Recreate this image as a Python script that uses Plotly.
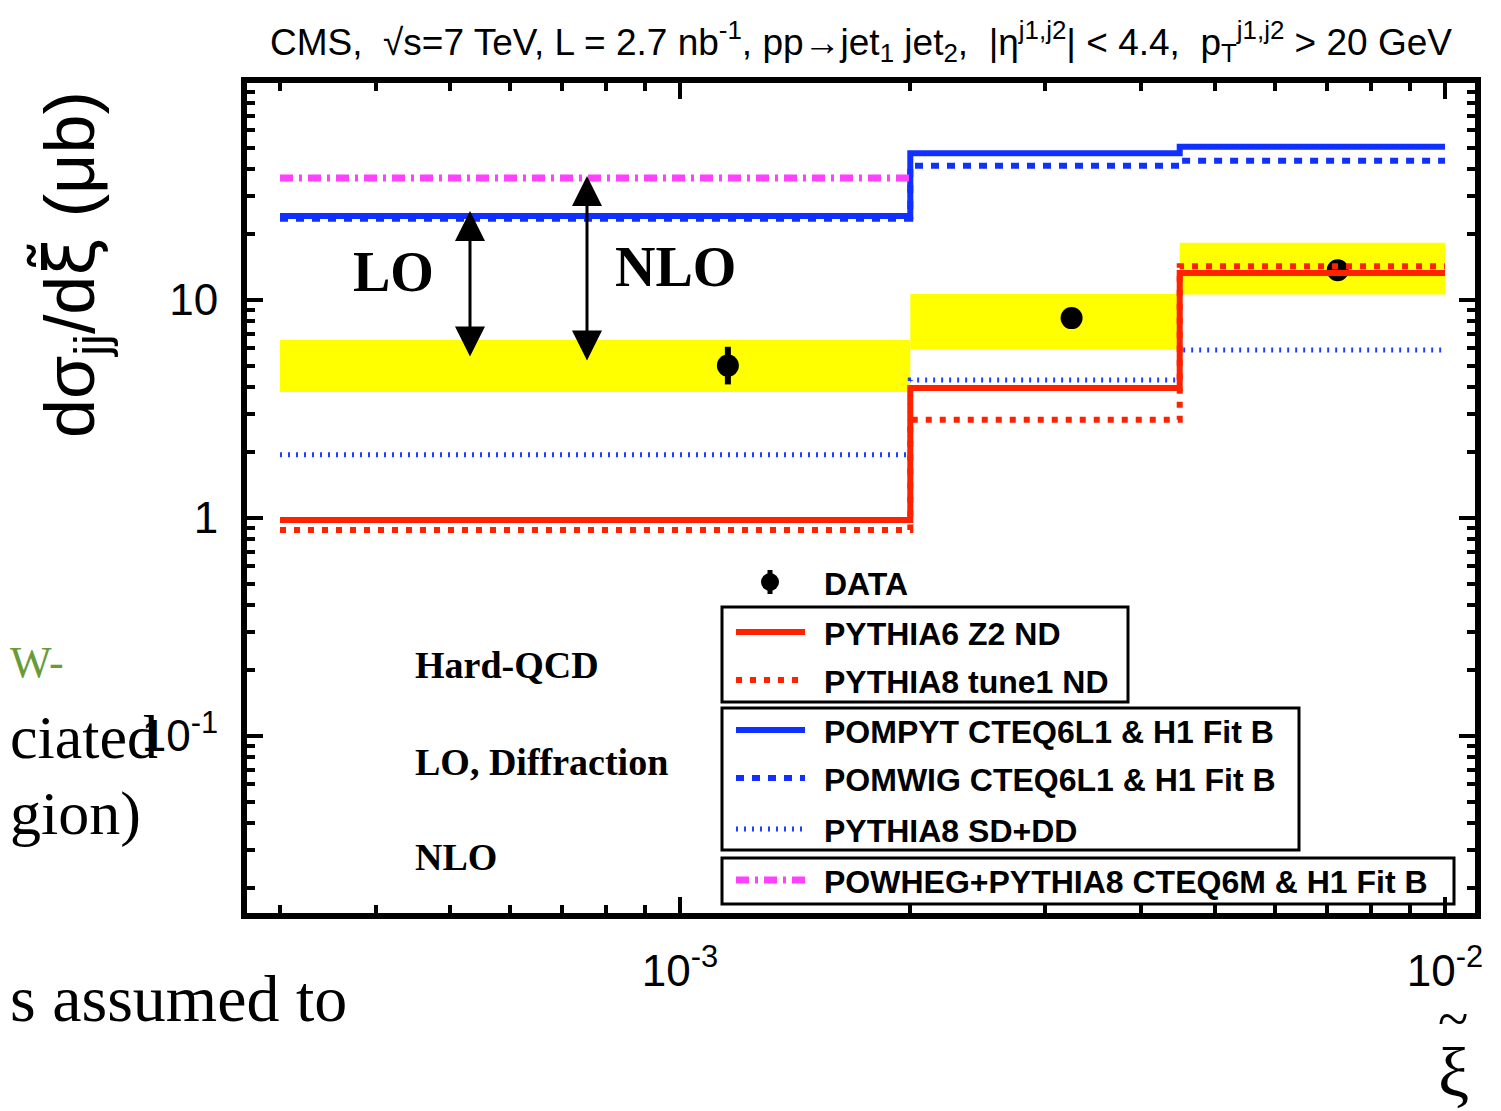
import plotly.graph_objects as go

# ---------------- data ----------------
bin_edges = [3e-4, 2e-3, 4.5e-3, 1e-2]
data_x = [1.155e-3, 3.25e-3, 7.24e-3]
data_y = [5.0, 8.26, 13.7]
data_err_up = [1.1, 0.6, 0.8]
data_err_dn = [0.9, 0.6, 0.8]
band_lo = [3.78, 5.96, 10.6]
band_hi = [6.56, 10.65, 18.3]

pythia6_z2 = [0.98, 3.95, 13.3]
pythia8_tune1 = [0.88, 2.82, 14.3]
pompyt = [24.3, 47.1, 50.4]
pomwig = [23.6, 41.3, 43.5]
pythia8_sddd = [1.95, 4.3, 5.9]
powheg = [36.3]

y_tickvals = [0.1, 1, 10]
y_ticktext = ["10<sup>-1</sup>", "1", "10"]
x_tickvals = [1e-3, 1e-2]
x_ticktext = ["10<sup>-3</sup>", "10<sup>-2</sup>"]

legend_labels = ["DATA", "PYTHIA6 Z2 ND", "PYTHIA8 tune1 ND",
                 "POMPYT CTEQ6L1 & H1 Fit B", "POMWIG CTEQ6L1 & H1 Fit B",
                 "PYTHIA8 SD+DD", "POWHEG+PYTHIA8 CTEQ6M & H1 Fit B"]

# ---------------- geometry (page pixels) ----------------
OFF = 8                      # default body margin of the html page
W, H = 1501 - OFF, 1111 - OFF
PX0, PX1, PY0, PY1 = 247, 1475, 83, 913


def px(X):
    return (X - PX0) / (PX1 - PX0)


def py(Y):
    return (PY1 - Y) / (PY1 - PY0)


SANS = "Liberation Sans, Arial, sans-serif"
SERIF = "Liberation Serif, Times New Roman, serif"

RED = "#ff2200"
BLUE = "#1030ff"
BLUE_DOT = "#2040ff"
MAGENTA = "#ff40ff"
YELLOW = "#ffff00"

fig = go.Figure()

# yellow bands
for i in range(3):
    e0, e1 = bin_edges[i], bin_edges[i + 1]
    fig.add_trace(go.Scatter(
        x=[e0, e1, e1, e0, e0],
        y=[band_lo[i], band_lo[i], band_hi[i], band_hi[i], band_lo[i]],
        mode="lines", fill="toself", fillcolor=YELLOW,
        line=dict(width=0, color=YELLOW), showlegend=False, hoverinfo="skip"))

# data
fig.add_trace(go.Scatter(
    x=data_x, y=data_y, mode="markers",
    marker=dict(color="black", size=22),
    error_y=dict(type="data", array=data_err_up, arrayminus=data_err_dn,
                 color="black", thickness=6, width=0),
    showlegend=False))


def step(vals, color, width, dash):
    n = len(vals)
    xs = bin_edges[:n + 1]
    ys = list(vals) + [vals[-1]]
    fig.add_trace(go.Scatter(x=xs, y=ys, mode="lines", line_shape="hv",
                             line=dict(color=color, width=width, dash=dash),
                             showlegend=False))


DOT = "2px,6px"
RDASH = "6px,8px"
BDASH = "8px,8px"
DASHDOT = "13px,6px,3px,6px"

step(pythia8_sddd, BLUE_DOT, 5, DOT)
step(pythia8_tune1, RED, 6, RDASH)
step(pythia6_z2, RED, 6, "solid")
step(pomwig, BLUE, 6, BDASH)
step(pompyt, BLUE, 6, "solid")
step(powheg, MAGENTA, 7, DASHDOT)

x_minor = [k * 1e-4 for k in range(3, 10)] + [k * 1e-3 for k in range(2, 10)]
y_minor = ([k * 0.01 for k in range(2, 10)] + [k * 0.1 for k in range(2, 10)] +
           [k * 1.0 for k in range(2, 10)] + [k * 10.0 for k in range(2, 10)])

fig.update_xaxes(
    type="log",
    range=[-3 - (680 - PX0) / 765, -2 + (PX1 - 1445) / 765],
    showline=True, linecolor="black", linewidth=6, mirror="allticks",
    ticks="inside", ticklen=16, tickwidth=4, tickcolor="black",
    tickvals=x_tickvals, ticktext=x_ticktext,
    tickfont=dict(family=SANS, size=44, color="black"),
    ticklabelstandoff=14,
    minor=dict(tickvals=x_minor, ticks="inside", ticklen=8, tickwidth=4, tickcolor="black"),
    showgrid=False, zeroline=False)

fig.update_yaxes(
    type="log",
    range=[-1 - (PY1 - 736) / 218, 1 + (300 - PY0) / 218],
    showline=True, linecolor="black", linewidth=6, mirror="allticks",
    ticks="inside", ticklen=16, tickwidth=4, tickcolor="black",
    tickvals=y_tickvals, ticktext=y_ticktext,
    tickfont=dict(family=SANS, size=44, color="black"),
    ticklabelstandoff=14,
    minor=dict(tickvals=y_minor, ticks="inside", ticklen=8, tickwidth=4, tickcolor="black"),
    showgrid=False, zeroline=False)

ann = []
shapes = []

# title
ann.append(dict(
    text=("CMS,  √s=7 TeV, L = 2.7 nb<sup>-1</sup>, pp→jet<sub>1</sub> jet<sub>2</sub>,  "
          "|η<sup>j1,j2</sup>| < 4.4,  p<sub>T</sub><sup>j1,j2</sup> > 20 GeV"),
    x=px(861), y=py(42), xref="paper", yref="paper", showarrow=False,
    xanchor="center", yanchor="middle", font=dict(family=SANS, size=37, color="black")))

# y title
ann.append(dict(
    text=("dσ<sub>jj</sub>/d<span style=\"font-family:DejaVu Sans\">ξ̃</span> (μb)"),
    x=px(72), y=py(265), xref="paper", yref="paper",
    showarrow=False, textangle=-90, xanchor="center", yanchor="middle",
    font=dict(family=SANS, size=70, color="black")))

# x title: xi with a tilde above
ann.append(dict(
    text="ξ", x=px(1453), y=py(1072), xref="paper", yref="paper",
    showarrow=False, xanchor="center", yanchor="middle",
    font=dict(family=SERIF, size=70, color="black")))
ann.append(dict(
    text="~", x=px(1453), y=py(1019), xref="paper", yref="paper",
    showarrow=False, xanchor="center", yanchor="middle",
    font=dict(family=SERIF, size=56, color="black")))

# LO / NLO labels
ann.append(dict(text="<b>LO</b>", x=px(393), y=py(272), xref="paper", yref="paper",
                showarrow=False, xanchor="center", yanchor="middle",
                font=dict(family=SERIF, size=56, color="black")))
ann.append(dict(text="<b>NLO</b>", x=px(675), y=py(267), xref="paper", yref="paper",
                showarrow=False, xanchor="center", yanchor="middle",
                font=dict(family=SERIF, size=56, color="black")))

# arrows
for xa, ytop, ybot in [(470, 211, 358), (587, 176, 362)]:
    ann.append(dict(text="", x=px(xa), y=py(ytop), xref="paper", yref="paper",
                    ax=0, ay=ybot - ytop, axref="pixel", ayref="pixel",
                    showarrow=True, arrowhead=2, arrowside="end+start",
                    arrowsize=2, arrowwidth=3, arrowcolor="black", standoff=0,
                    startstandoff=0))

# Hard-QCD etc.
for t, yy in [("Hard-QCD", 665), ("LO, Diffraction", 762), ("NLO", 857)]:
    ann.append(dict(text="<b>" + t + "</b>", x=px(413), y=py(yy), xref="paper", yref="paper",
                    showarrow=False, xanchor="left", yanchor="middle",
                    font=dict(family=SERIF, size=38, color="black")))

# background slide text fragments
for t, yy, sz, col in [("W-", 662, 44, "#6a9b36"), ("ciated", 737, 62, "black"),
                       ("gion)", 813, 62, "black"), ("s assumed to", 998, 66, "black")]:
    ann.append(dict(text=t, x=px(OFF), y=py(yy), xref="paper", yref="paper",
                    showarrow=False, xanchor="left", yanchor="middle",
                    font=dict(family=SERIF, size=sz, color=col)))

# ---------------- legend ----------------
rows = [582, 632, 680, 730, 778, 829, 880]
LX0, LX1, TX = 736, 805, 822
for lab, yy in zip(legend_labels, rows):
    ann.append(dict(text="<b>" + lab + "</b>", x=px(TX), y=py(yy + 2), xref="paper", yref="paper",
                    showarrow=False, xanchor="left", yanchor="middle",
                    font=dict(family=SANS, size=32, color="black")))

# DATA legend marker
fig.add_trace(go.Scatter(x=[px(770)], y=[py(582)], xaxis="x2", yaxis="y2", mode="markers",
                         marker=dict(color="black", size=18),
                         error_y=dict(type="constant", value=py(570) - py(582),
                                      color="black", thickness=5, width=0),
                         showlegend=False, hoverinfo="skip"))
fig.update_layout(
    xaxis2=dict(overlaying="x", range=[0, 1], visible=False),
    yaxis2=dict(overlaying="y", range=[0, 1], visible=False))

leg_styles = [(RED, 6, "solid"), (RED, 6, RDASH), (BLUE, 6, "solid"),
              (BLUE, 6, BDASH), (BLUE_DOT, 5, DOT), (MAGENTA, 7, DASHDOT)]
for (c, w, d), yy in zip(leg_styles, rows[1:]):
    shapes.append(dict(type="line", xref="paper", yref="paper",
                       x0=px(LX0), x1=px(LX1), y0=py(yy), y1=py(yy),
                       line=dict(color=c, width=w, dash=d)))

for (X0, Y0, X1, Y1) in [(722, 607, 1128, 702), (722, 708, 1299, 850), (722, 858, 1454, 904)]:
    shapes.append(dict(type="rect", xref="paper", yref="paper",
                       x0=px(X0), x1=px(X1), y0=py(Y0), y1=py(Y1),
                       line=dict(color="black", width=3), fillcolor="rgba(0,0,0,0)"))

fig.update_layout(
    width=W, height=H,
    margin=dict(l=PX0 - OFF, r=W - (PX1 - OFF), t=PY0 - OFF, b=H - (PY1 - OFF)),
    paper_bgcolor="white", plot_bgcolor="white",
    showlegend=False,
    annotations=ann, shapes=shapes)

fig.write_html("out.html")
